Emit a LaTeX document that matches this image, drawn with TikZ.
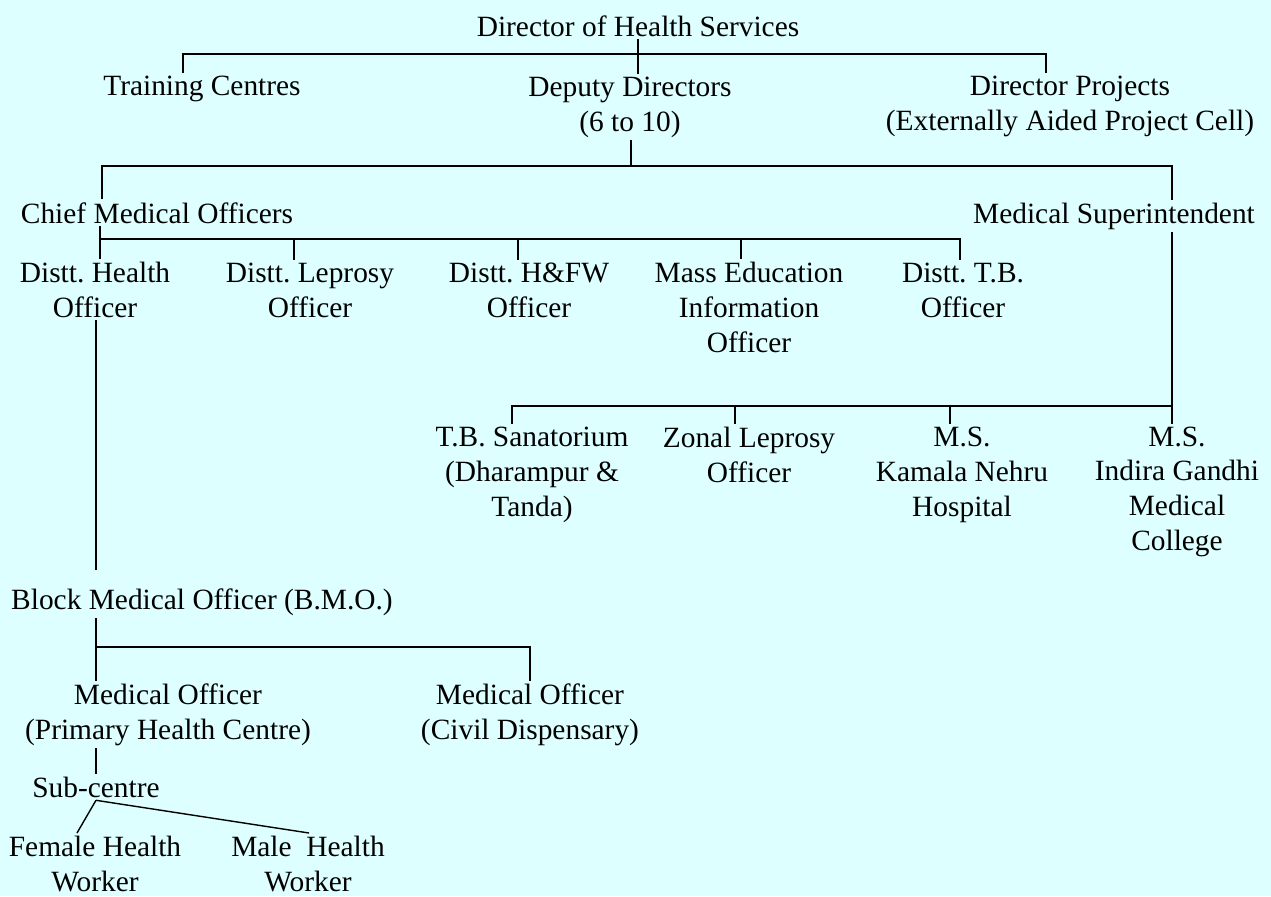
\documentclass[tikz,border=0pt]{standalone}
\usepackage{fontspec}
\setmainfont{Liberation Serif}
\usepackage{xcolor}
\usepackage{tikz}
\usetikzlibrary{positioning}
\definecolor{paleaqua}{RGB}{221,255,255}
\frenchspacing

\begin{document}
\begin{tikzpicture}[x=0.5pt, y=-0.5pt, line width=0.7pt,
    every node/.style = {align=center, anchor=base, inner sep=0pt, outer sep=1.5pt,
        font=\fontsize{14.7}{17.3}\selectfont}]
    \fill[paleaqua] (0,0) rectangle (1271,896);
    \node (dhs) at (638,36) {Director of Health Services};
    \node (tc) at (202,95) {Training Centres};
    \node (dd) at (630,131) {Deputy Directors\\(6 to 10)};
    \node (dp) at (1070,130) {Director Projects\\(Externally Aided Project Cell)};
    \node (cmo) at (157,223) {Chief Medical Officers};
    \node (ms) at (1114,223) {Medical Superintendent};
    \node (dho) at (95,317) {Distt. Health\\Officer};
    \node (dlo) at (310,317) {Distt. Leprosy\\Officer};
    \node (dhfw) at (529,317) {Distt. H\&FW\\Officer};
    \node (meio) at (749,352) {Mass Education\\Information\\Officer};
    \node (dtb) at (963,317) {Distt. T.B.\\Officer};
    \node (tbs) at (532,516) {T.B. Sanatorium\\(Dharampur \&\\Tanda)};
    \node (zlo) at (749,482) {Zonal Leprosy\\Officer};
    \node (knh) at (962,516) {M.S.\\Kamala Nehru\\Hospital};
    \node (igmc) at (1177,550) {M.S.\\Indira Gandhi\\Medical\\College};
    \node (bmo) at (202,609) {Block Medical Officer (B.M.O.)};
    \node (mophc) at (168,739) {Medical Officer\\(Primary Health Centre)};
    \node (mocd) at (530,739) {Medical Officer\\(Civil Dispensary)};
    \node (sub) at (96,797) {Sub-centre};
    \node (fhw) at (95,891) {Female Health\\Worker};
    \node (mhw) at (308,891) {Male\ \ Health\\Worker};

    \coordinate (b1) at (638,54);
    \coordinate (b2) at (631,166);
    \coordinate (b3) at (100,239);
    \coordinate (b4) at (1172,406);
    \coordinate (bmotop) at (96,570);
    \coordinate (b6) at (96,647);

    \draw (dhs.south) -- (dhs.south |- dd.north);
    \draw (tc.north -| 183,0) |- (b1) -| (dp.north -| 1046,0);
    \draw (dd.south -| b2) -- (b2);
    \draw (cmo.north -| 102,0) |- (b2) -| (ms.north -| b4);
    \draw (cmo.south -| b3) -- (dho.north -| b3);
    \draw (b3) -| (dtb.north -| 960,0);
    \foreach \n/\x in {dlo/294, dhfw/518, meio/741}
        \draw (\x,239) -- (\n.north -| \x,0);
    \draw (ms.south -| b4) -- (igmc.north -| b4);
    \draw (b4) -| (tbs.north -| 512,0);
    \foreach \n/\x in {zlo/735, knh/950}
        \draw (\x,406) -- (\n.north -| \x,0);
    \draw (dho.south -| bmotop) -- (bmotop);
    \draw (bmo.south -| b6) -- (mophc.north -| b6);
    \draw (b6) -| (mocd.north);
    \draw (mophc.south -| sub) -- (sub.north);
    \draw (sub.south) -- (fhw.north -| 77,0);
    \draw (sub.south) -- (mhw.north -| 309,0);
\end{tikzpicture}
\end{document}
